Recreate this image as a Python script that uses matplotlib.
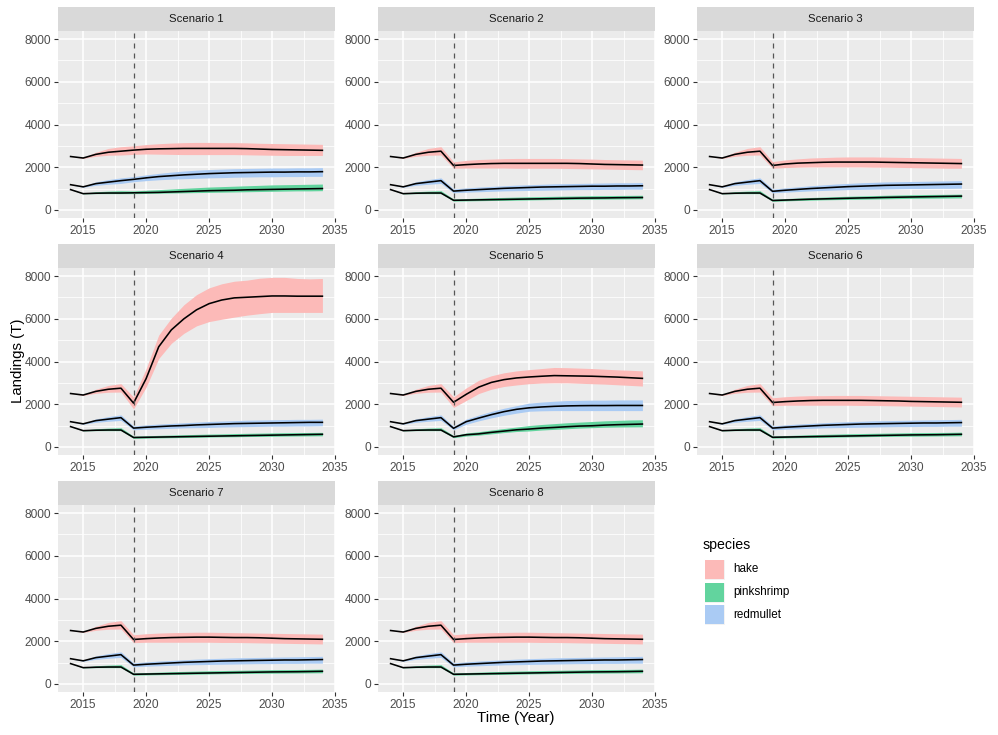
import matplotlib
matplotlib.use("Agg")
import matplotlib.pyplot as plt
from matplotlib.patches import Rectangle
from matplotlib.ticker import MultipleLocator

plt.rcParams['font.family'] = ['Liberation Sans', 'DejaVu Sans']

years = list(range(2014, 2035))
species = ['hake', 'pinkshrimp', 'redmullet']
# ribbon fills as they appear in the picture (hue colours at half opacity)
colors = {'hake': '#FCBAB8', 'pinkshrimp': '#62D49E', 'redmullet': '#AACBF4'}
scenarios = [1, 2, 3, 4, 5, 6, 7, 8]

# observed part, 2014-2018 (same in every scenario)
hist_mid = {'hake': [2500, 2430, 2600, 2700, 2750],
            'redmullet': [1180, 1080, 1230, 1300, 1370],
            'pinkshrimp': [950, 760, 780, 790, 790]}
hist_lo = {'hake': [2500, 2410, 2510, 2560, 2570],
           'redmullet': [1180, 1060, 1150, 1200, 1240],
           'pinkshrimp': [950, 750, 760, 760, 760]}
hist_hi = {'hake': [2500, 2450, 2700, 2880, 2960],
           'redmullet': [1180, 1100, 1310, 1420, 1500],
           'pinkshrimp': [950, 780, 850, 880, 900]}

# projections 2019-2034
hake_mid = {
    1: [2800, 2840, 2860, 2870, 2880, 2880, 2880, 2880, 2880, 2870, 2850, 2830, 2820, 2810, 2800, 2790],
    2: [2080, 2120, 2150, 2170, 2180, 2180, 2180, 2180, 2180, 2180, 2170, 2150, 2130, 2120, 2110, 2100],
    3: [2080, 2150, 2190, 2210, 2230, 2240, 2240, 2240, 2240, 2230, 2220, 2210, 2200, 2190, 2180, 2170],
    4: [2050, 3200, 4690, 5480, 6000, 6420, 6710, 6880, 6980, 7010, 7040, 7070, 7070, 7060, 7060, 7060],
    5: [2090, 2460, 2800, 3020, 3150, 3230, 3275, 3310, 3340, 3330, 3320, 3310, 3290, 3270, 3240, 3210],
    6: [2080, 2120, 2150, 2170, 2180, 2180, 2180, 2180, 2170, 2160, 2150, 2130, 2120, 2110, 2100, 2090],
    7: [2080, 2120, 2150, 2170, 2180, 2190, 2190, 2180, 2170, 2170, 2160, 2140, 2120, 2110, 2100, 2090],
    8: [2080, 2120, 2150, 2170, 2180, 2190, 2190, 2180, 2170, 2170, 2160, 2140, 2120, 2110, 2100, 2090],
}
hake_lo = {
    1: [2600, 2620, 2610, 2600, 2590, 2590, 2590, 2590, 2590, 2580, 2570, 2560, 2550, 2550, 2550, 2550],
    2: [1950, 1960, 1960, 1960, 1960, 1950, 1950, 1950, 1950, 1940, 1930, 1920, 1910, 1900, 1890, 1880],
    3: [1950, 1980, 2000, 2010, 2010, 2010, 2010, 2010, 2000, 2000, 1990, 1980, 1970, 1960, 1950, 1950],
    4: [1780, 2800, 4140, 4850, 5320, 5670, 5870, 5980, 6080, 6170, 6240, 6300, 6300, 6300, 6300, 6300],
    5: [1850, 2170, 2500, 2700, 2830, 2900, 2960, 2990, 3000, 3000, 2980, 2960, 2940, 2910, 2880, 2850],
    6: [1930, 1950, 1950, 1950, 1950, 1950, 1950, 1940, 1940, 1930, 1920, 1910, 1900, 1890, 1880, 1870],
    7: [1930, 1950, 1950, 1950, 1950, 1950, 1950, 1940, 1940, 1930, 1920, 1910, 1900, 1890, 1880, 1870],
    8: [1930, 1950, 1950, 1950, 1950, 1950, 1950, 1940, 1940, 1930, 1920, 1910, 1900, 1890, 1880, 1870],
}
hake_hi = {
    1: [3000, 3060, 3100, 3130, 3150, 3160, 3160, 3150, 3150, 3140, 3120, 3110, 3100, 3090, 3080, 3070],
    2: [2250, 2320, 2360, 2380, 2400, 2410, 2410, 2410, 2410, 2400, 2390, 2380, 2360, 2350, 2340, 2330],
    3: [2260, 2340, 2390, 2430, 2450, 2470, 2480, 2480, 2480, 2470, 2460, 2450, 2440, 2430, 2420, 2410],
    4: [2330, 3670, 5240, 6030, 6660, 7130, 7450, 7640, 7760, 7810, 7900, 7940, 7940, 7890, 7870, 7890],
    5: [2340, 2760, 3120, 3330, 3470, 3560, 3620, 3670, 3720, 3710, 3690, 3670, 3640, 3610, 3590, 3560],
    6: [2300, 2350, 2380, 2400, 2400, 2410, 2410, 2410, 2400, 2390, 2380, 2370, 2360, 2350, 2340, 2330],
    7: [2300, 2350, 2380, 2400, 2410, 2420, 2420, 2410, 2400, 2390, 2380, 2370, 2360, 2350, 2340, 2330],
    8: [2300, 2350, 2380, 2400, 2410, 2420, 2420, 2410, 2400, 2390, 2380, 2370, 2360, 2350, 2340, 2330],
}
redmullet_mid = {
    1: [1430, 1500, 1560, 1600, 1640, 1670, 1700, 1720, 1740, 1750, 1760, 1770, 1770, 1780, 1780, 1790],
    2: [880, 920, 950, 980, 1010, 1030, 1050, 1070, 1080, 1090, 1100, 1110, 1110, 1120, 1120, 1130],
    3: [870, 920, 960, 1000, 1030, 1060, 1090, 1110, 1130, 1150, 1160, 1170, 1180, 1190, 1200, 1210],
    4: [880, 920, 950, 980, 1000, 1030, 1050, 1070, 1090, 1100, 1110, 1120, 1130, 1140, 1150, 1150],
    5: [870, 1180, 1350, 1510, 1650, 1760, 1830, 1870, 1900, 1920, 1930, 1935, 1935, 1940, 1940, 1940],
    6: [880, 920, 950, 980, 1010, 1030, 1050, 1070, 1080, 1090, 1100, 1110, 1120, 1120, 1130, 1140],
    7: [880, 920, 950, 980, 1010, 1030, 1050, 1070, 1080, 1090, 1100, 1110, 1120, 1120, 1130, 1140],
    8: [880, 920, 950, 980, 1010, 1030, 1050, 1070, 1080, 1090, 1100, 1110, 1120, 1120, 1130, 1140],
}
redmullet_lo = {
    1: [1320, 1370, 1410, 1440, 1460, 1480, 1500, 1510, 1530, 1540, 1550, 1550, 1560, 1560, 1570, 1570],
    2: [800, 830, 850, 870, 890, 900, 910, 920, 930, 940, 950, 950, 960, 960, 970, 970],
    3: [800, 830, 860, 890, 910, 930, 950, 960, 970, 980, 990, 1000, 1000, 1010, 1010, 1020],
    4: [800, 830, 850, 870, 890, 900, 910, 930, 940, 950, 960, 970, 970, 980, 980, 990],
    5: [800, 1060, 1220, 1360, 1480, 1580, 1670, 1690, 1700, 1700, 1700, 1700, 1700, 1700, 1700, 1700],
    6: [800, 830, 850, 870, 890, 900, 910, 920, 930, 940, 950, 950, 960, 960, 970, 970],
    7: [800, 830, 850, 870, 890, 900, 910, 920, 930, 940, 950, 950, 960, 960, 970, 970],
    8: [800, 830, 850, 870, 890, 900, 910, 920, 930, 940, 950, 950, 960, 960, 970, 970],
}
redmullet_hi = {
    1: [1560, 1640, 1710, 1770, 1820, 1860, 1890, 1910, 1930, 1940, 1950, 1960, 1960, 1970, 1970, 1980],
    2: [980, 1030, 1070, 1100, 1130, 1160, 1180, 1200, 1220, 1230, 1240, 1250, 1260, 1270, 1270, 1280],
    3: [970, 1030, 1080, 1130, 1170, 1210, 1240, 1270, 1290, 1310, 1320, 1330, 1340, 1350, 1360, 1370],
    4: [980, 1030, 1070, 1100, 1130, 1160, 1190, 1210, 1230, 1250, 1260, 1270, 1280, 1290, 1290, 1300],
    5: [960, 1300, 1490, 1660, 1810, 1930, 2050, 2100, 2140, 2170, 2180, 2190, 2190, 2200, 2200, 2200],
    6: [980, 1030, 1070, 1100, 1130, 1160, 1180, 1200, 1220, 1230, 1240, 1250, 1260, 1270, 1280, 1290],
    7: [980, 1030, 1070, 1100, 1130, 1160, 1180, 1200, 1220, 1230, 1240, 1250, 1260, 1270, 1280, 1290],
    8: [980, 1030, 1070, 1100, 1130, 1160, 1180, 1200, 1220, 1230, 1240, 1250, 1260, 1270, 1280, 1290],
}
pinkshrimp_mid = {
    1: [800, 810, 820, 840, 860, 880, 900, 910, 920, 940, 950, 960, 970, 980, 990, 1000],
    2: [450, 460, 470, 480, 490, 500, 510, 520, 530, 540, 550, 555, 560, 570, 575, 580],
    3: [440, 460, 480, 500, 515, 530, 545, 560, 570, 585, 595, 605, 615, 625, 635, 645],
    4: [440, 450, 460, 470, 480, 490, 500, 510, 520, 530, 540, 550, 560, 570, 580, 590],
    5: [470, 570, 610, 680, 740, 800, 835, 880, 910, 945, 975, 990, 1020, 1040, 1055, 1070],
    6: [450, 460, 470, 480, 490, 500, 510, 520, 530, 540, 550, 560, 565, 570, 580, 590],
    7: [450, 460, 470, 480, 490, 500, 510, 520, 530, 540, 550, 560, 565, 570, 580, 590],
    8: [450, 460, 470, 480, 490, 500, 510, 520, 530, 540, 550, 560, 565, 570, 580, 590],
}
pinkshrimp_lo = {
    1: [760, 770, 780, 790, 800, 810, 820, 830, 840, 850, 860, 870, 880, 890, 890, 900],
    2: [410, 420, 430, 440, 445, 455, 465, 475, 485, 490, 495, 500, 505, 510, 515, 520],
    3: [400, 420, 440, 455, 470, 480, 490, 500, 510, 520, 530, 540, 545, 550, 555, 560],
    4: [400, 410, 420, 430, 440, 450, 460, 470, 475, 485, 490, 495, 505, 510, 515, 520],
    5: [430, 510, 550, 610, 670, 720, 745, 790, 820, 850, 880, 900, 920, 930, 935, 940],
    6: [410, 420, 430, 440, 445, 455, 465, 475, 485, 490, 495, 500, 505, 510, 515, 520],
    7: [410, 420, 430, 440, 445, 455, 465, 475, 485, 490, 495, 500, 505, 510, 515, 520],
    8: [410, 420, 430, 440, 445, 455, 465, 475, 485, 490, 495, 500, 505, 510, 515, 520],
}
pinkshrimp_hi = {
    1: [890, 920, 950, 980, 1010, 1040, 1070, 1090, 1110, 1130, 1150, 1170, 1180, 1190, 1200, 1210],
    2: [510, 530, 550, 570, 585, 600, 615, 625, 635, 645, 655, 665, 670, 675, 680, 685],
    3: [500, 530, 555, 580, 600, 620, 640, 655, 670, 685, 700, 710, 720, 725, 730, 740],
    4: [500, 520, 540, 555, 570, 585, 600, 610, 625, 635, 645, 655, 665, 670, 675, 680],
    5: [530, 650, 710, 790, 860, 930, 1000, 1050, 1090, 1130, 1160, 1190, 1220, 1240, 1260, 1270],
    6: [510, 530, 550, 570, 585, 600, 615, 625, 635, 645, 655, 665, 670, 675, 680, 690],
    7: [510, 530, 550, 570, 585, 600, 615, 625, 635, 645, 655, 665, 670, 675, 680, 690],
    8: [510, 530, 550, 570, 585, 600, 615, 625, 635, 645, 655, 665, 670, 675, 680, 690],
}

proj = {'hake': (hake_mid, hake_lo, hake_hi),
        'redmullet': (redmullet_mid, redmullet_lo, redmullet_hi),
        'pinkshrimp': (pinkshrimp_mid, pinkshrimp_lo, pinkshrimp_hi)}

W, H = 998, 735
fig = plt.figure(figsize=(W / 100, H / 100), dpi=100)

col_x = [58, 378, 697]
row_top = [31, 268, 505]
pw, ph, sh = 277, 187, 24


def px_rect(x, top, w, h):
    return [x / W, (H - top - h) / H, w / W, h / H]


for i, sc in enumerate(scenarios):
    r, c = divmod(i, 3)
    ax = fig.add_axes(px_rect(col_x[c], row_top[r], pw, ph))
    ax.set_facecolor('#EBEBEB')
    for s in ax.spines.values():
        s.set_visible(False)
    ax.set_xlim(2013, 2035)
    ax.set_ylim(-380, 8380)
    ax.set_xticks([2015, 2020, 2025, 2030, 2035])
    ax.set_yticks([0, 2000, 4000, 6000, 8000])
    ax.xaxis.set_minor_locator(MultipleLocator(2.5))
    ax.yaxis.set_minor_locator(MultipleLocator(1000))
    ax.grid(True, which='major', color='white', lw=1.1)
    ax.grid(True, which='minor', color='white', lw=0.55)
    ax.set_axisbelow(True)
    ax.tick_params(which='major', length=3, width=0.8, color='#333333',
                   labelcolor='#4D4D4D', labelsize=8.6, pad=2)
    ax.tick_params(which='minor', length=0)

    for sp in species:
        mid_d, lo_d, hi_d = proj[sp]
        lo = hist_lo[sp] + lo_d[sc]
        hi = hist_hi[sp] + hi_d[sc]
        ax.fill_between(years, lo, hi, color=colors[sp], lw=0, zorder=2)
    for sp in species:
        mid = hist_mid[sp] + proj[sp][0][sc]
        ax.plot(years, mid, color='black', lw=1.15, zorder=3)
    ax.axvline(2019, color='#555555', lw=0.9, ls=(0, (4, 4)), zorder=4)

    sax = fig.add_axes(px_rect(col_x[c], row_top[r] - sh, pw, sh))
    sax.set_facecolor('#D9D9D9')
    sax.set_xticks([])
    sax.set_yticks([])
    for s in sax.spines.values():
        s.set_visible(False)
    sax.text(0.5, 0.5, f'Scenario {sc}', ha='center', va='center',
             fontsize=8.2, color='#1A1A1A', transform=sax.transAxes)

fig.text(18 / W, 1 - 361 / H, 'Landings (T)', rotation=90, ha='center',
         va='center', fontsize=10.8, color='black')
fig.text(516 / W, 1 - 718 / H, 'Time (Year)', ha='center', va='center',
         fontsize=10.8, color='black')

# legend
fig.text(703 / W, 1 - 545 / H, 'species', ha='left', va='center',
         fontsize=10.2, color='black')
for k, sp in enumerate(species):
    top = 559 + k * 22.5
    fig.patches.append(Rectangle((704 / W, 1 - (top + 21) / H), 21 / W, 21 / H,
                                 transform=fig.transFigure, facecolor='#F2F2F2',
                                 edgecolor='white', lw=0.8))
    fig.patches.append(Rectangle((705 / W, 1 - (top + 20) / H), 19 / W, 19 / H,
                                 transform=fig.transFigure, facecolor=colors[sp],
                                 lw=0))
    fig.text(733 / W, 1 - (top + 10.5) / H, sp, ha='left', va='center',
             fontsize=8.4, color='black')

fig.savefig('out.png', dpi=100, facecolor='white')
